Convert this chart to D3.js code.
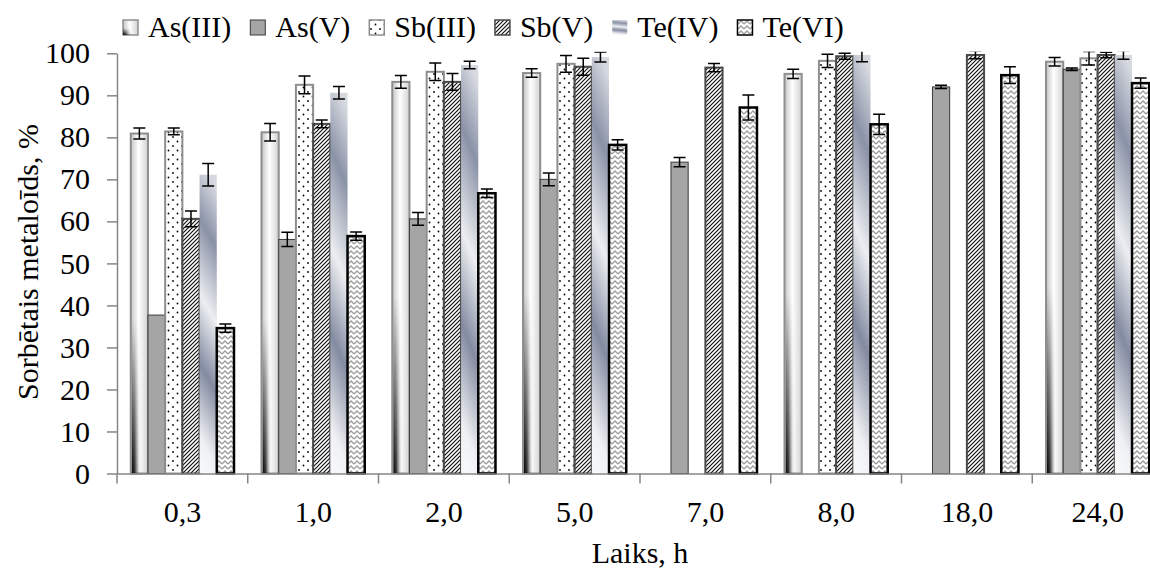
<!DOCTYPE html>
<html>
<head>
<meta charset="utf-8">
<script src="https://cdn.jsdelivr.net/npm/d3@7"></script>
<style>
  html, body { margin: 0; padding: 0; background: #ffffff; }
  svg { display: block; }
  text { font-family: "Liberation Serif", "Times New Roman", serif; fill: #000; }
</style>
</head>
<body>
<svg id="chart" width="1150" height="569"></svg>
<script>
// ---------- data ----------
const categories = ["0,3", "1,0", "2,0", "5,0", "7,0", "8,0", "18,0", "24,0"];
const seriesNames = ["As(III)", "As(V)", "Sb(III)", "Sb(V)", "Te(IV)", "Te(VI)"];
const yTicks = [0, 10, 20, 30, 40, 50, 60, 70, 80, 90, 100];

const asIII    = [80.9, 81.2, 93.2, 95.3, null, 95.1, null, 98.0];
const asIIIErr = [1.3, 2.1, 1.5, 1.0, null, 1.1, null, 1.0];
const asV      = [37.7, 55.7, 60.6, 70.0, 74.1, null, 92.0, 96.2];
const asVErr   = [null, 1.7, 1.5, 1.5, 1.1, null, 0.4, 0.3];
const sbIII    = [81.4, 92.5, 95.6, 97.5, null, 98.2, null, 98.8];
const sbIIIErr = [0.8, 2.1, 2.1, 2.0, null, 1.6, null, 1.6];
const sbV      = [60.6, 83.2, 93.2, 96.8, 96.6, 99.3, 99.6, 99.6];
const sbVErr   = [1.9, 0.9, 2.0, 2.0, 1.0, 0.7, 0.9, 0.65];
const teIV     = [71.1, 90.6, 97.2, 99.1, null, 99.6, null, 99.6];
const teIVErr  = [2.7, 1.5, 0.9, 1.2, null, 1.6, null, 1.0];
const teVI     = [34.6, 56.5, 66.7, 78.2, 87.1, 83.1, 94.8, 92.9];
const teVIErr  = [1.0, 1.0, 1.0, 1.2, 3.0, 2.4, 2.0, 1.2];

const seriesValues = [asIII, asV, sbIII, sbV, teIV, teVI];
const seriesErrors = [asIIIErr, asVErr, sbIIIErr, sbVErr, teIVErr, teVIErr];

// ---------- styles ----------
const seriesStyle = [
  { fill: "url(#gAsIII)", overlay: true, stroke: "#8e8e8e", sw: 2 },
  { fill: "#a5a5a5", stroke: "#3a3a3a", sw: 1 },
  { fill: "url(#pDots)", stroke: "#8e8e8e", sw: 2 },
  { fill: "url(#pHatch)", stroke: "#4a4a4a", sw: 2 },
  { fill: "url(#gTeIV)", stroke: "none", sw: 0 },
  { fill: "url(#pZig)", stroke: "#000000", sw: 2.5 }
];

const svg = d3.select("#chart");
svg.append("rect").attr("width", 1150).attr("height", 569).attr("fill", "#fff");

// ---------- defs ----------
const defs = svg.append("defs");

const gA = defs.append("linearGradient").attr("id", "gAsIII").attr("x1", 0).attr("y1", 0).attr("x2", 1).attr("y2", 0);
[[0, "#c4c4c4"], [0.45, "#ffffff"], [1, "#d2d2d2"]].forEach(s => gA.append("stop").attr("offset", s[0]).attr("stop-color", s[1]));

const gDark = defs.append("linearGradient").attr("id", "gAsIIIDark").attr("x1", 0).attr("y1", 0).attr("x2", 1).attr("y2", 0);
[[0, "#000", 1], [0.2, "#222", 0.9], [0.55, "#888", 0]].forEach(s => gDark.append("stop").attr("offset", s[0]).attr("stop-color", s[1]).attr("stop-opacity", s[2]));

const gV = defs.append("linearGradient").attr("id", "gVmask").attr("x1", 0).attr("y1", 0).attr("x2", 0).attr("y2", 1);
[[0, "#000"], [0.55, "#000"], [1, "#fff"]].forEach(s => gV.append("stop").attr("offset", s[0]).attr("stop-color", s[1]));
defs.append("mask").attr("id", "mAsIII").attr("maskContentUnits", "objectBoundingBox")
  .append("rect").attr("x", 0).attr("y", 0).attr("width", 1).attr("height", 1).attr("fill", "url(#gVmask)");

const gT = defs.append("linearGradient").attr("id", "gTeIV").attr("x1", 0.55).attr("y1", 0).attr("x2", 0.45).attr("y2", 1);
[[0, "#d6d9e0"], [0.2, "#8a92a7"], [0.45, "#eceef1"], [0.68, "#838ba1"], [0.92, "#eff0f3"], [1, "#f6f7f9"]]
  .forEach(s => gT.append("stop").attr("offset", s[0]).attr("stop-color", s[1]));

const pD = defs.append("pattern").attr("id", "pDots").attr("patternUnits", "userSpaceOnUse").attr("width", 9).attr("height", 9);
pD.append("rect").attr("width", 9).attr("height", 9).attr("fill", "#fff");
pD.append("circle").attr("cx", 2).attr("cy", 2).attr("r", 0.9).attr("fill", "#000");
pD.append("circle").attr("cx", 6.5).attr("cy", 6.5).attr("r", 0.9).attr("fill", "#000");

const pH = defs.append("pattern").attr("id", "pHatch").attr("patternUnits", "userSpaceOnUse").attr("width", 4).attr("height", 4);
pH.append("rect").attr("width", 4).attr("height", 4).attr("fill", "#fff");
pH.append("path").attr("d", "M0,4 L4,0 M-1,1 L1,-1 M3,5 L5,3").attr("stroke", "#111").attr("stroke-width", 1.2);

const pZ = defs.append("pattern").attr("id", "pZig").attr("patternUnits", "userSpaceOnUse").attr("width", 6).attr("height", 5);
pZ.append("rect").attr("width", 6).attr("height", 5).attr("fill", "#fff");
pZ.append("path").attr("d", "M0,4 L3,1 L6,4").attr("fill", "none").attr("stroke", "#9c9c9c").attr("stroke-width", 1.3);

// ---------- scales ----------
const x0 = d3.scaleBand().domain(categories).range([117, 1163]).padding(0);
const x1 = d3.scaleBand().domain(seriesNames).range([0, x0.bandwidth()]).paddingInner(0).paddingOuter(0.8);
const y = d3.scaleLinear().domain([0, 100]).range([473.5, 53.3]);

// ---------- y axis ----------
const yAxis = svg.append("g").attr("transform", "translate(117,0)")
  .call(d3.axisLeft(y).tickValues(yTicks).tickSize(10).tickSizeOuter(0).tickPadding(17));
yAxis.select(".domain").attr("stroke", "#868686").attr("stroke-width", 1.5);
yAxis.selectAll(".tick line").attr("stroke", "#868686").attr("stroke-width", 1.5);
yAxis.selectAll(".tick text").attr("font-size", 30).attr("font-family", "Liberation Serif").attr("fill", "#000");

// ---------- bars ----------
const barsG = svg.append("g");
seriesNames.forEach((name, si) => {
  const st = seriesStyle[si];
  const data = categories.map((c, ci) => ({ c, v: seriesValues[si][ci] })).filter(d => d.v != null);
  const g = barsG.append("g");
  g.selectAll("rect.bar").data(data).join("rect").attr("class", "bar")
    .attr("x", d => x0(d.c) + x1(name))
    .attr("y", d => y(d.v))
    .attr("width", x1.bandwidth())
    .attr("height", d => y(0) - y(d.v))
    .attr("fill", st.fill)
    .attr("stroke", st.stroke)
    .attr("stroke-width", st.sw);
  if (st.overlay) {
    g.selectAll("rect.ov").data(data).join("rect").attr("class", "ov")
      .attr("x", d => x0(d.c) + x1(name) + 1)
      .attr("y", d => y(d.v))
      .attr("width", x1.bandwidth() - 2)
      .attr("height", d => y(0) - y(d.v))
      .attr("fill", "url(#gAsIIIDark)")
      .attr("mask", "url(#mAsIII)");
  }
});

// ---------- error bars ----------
defs.append("clipPath").attr("id", "plotClip").append("rect")
  .attr("x", 100).attr("y", y(100.35)).attr("width", 1100).attr("height", y(0) - y(100.35) + 5);
const errG = svg.append("g").attr("clip-path", "url(#plotClip)");
seriesNames.forEach((name, si) => {
  categories.forEach((c, ci) => {
    const v = seriesValues[si][ci], e = seriesErrors[si][ci];
    if (v == null || e == null) return;
    const cx = x0(c) + x1(name) + x1.bandwidth() / 2;
    const capW = 6;
    const yTop = y(v + e), yBot = y(v - e);
    errG.append("line").attr("x1", cx).attr("x2", cx).attr("y1", yTop).attr("y2", yBot)
      .attr("stroke", "#000").attr("stroke-width", 1.5);
    [yTop, yBot].forEach(yy => errG.append("line")
      .attr("x1", cx - capW).attr("x2", cx + capW).attr("y1", yy).attr("y2", yy)
      .attr("stroke", "#000").attr("stroke-width", 1.5));
  });
});

// ---------- x axis ----------
const xAxis = svg.append("g").attr("transform", `translate(0,${y(0)})`)
  .call(d3.axisBottom(x0).tickSize(0).tickSizeOuter(0).tickPadding(27));
xAxis.select(".domain").attr("stroke", "#868686").attr("stroke-width", 1.5);
xAxis.selectAll(".tick text").attr("font-size", 30).attr("font-family", "Liberation Serif").attr("fill", "#000");
xAxis.selectAll("line.bound").data(categories).join("line").attr("class", "bound")
  .attr("x1", d => x0(d)).attr("x2", d => x0(d)).attr("y1", 0).attr("y2", 10)
  .attr("stroke", "#868686").attr("stroke-width", 1.5);

// ---------- titles ----------
svg.append("text").attr("x", 640).attr("y", 563).attr("text-anchor", "middle")
  .attr("font-size", 30).text("Laiks, h");
svg.append("text").attr("transform", "translate(38,262) rotate(-90)").attr("text-anchor", "middle")
  .attr("font-size", 30).text("Sorbētais metaloīds, %");

// ---------- legend ----------
const leg = svg.append("g");
let lx = 123;
seriesNames.forEach((name, si) => {
  const st = seriesStyle[si];
  leg.append("rect").attr("x", lx).attr("y", 20).attr("width", 15).attr("height", 15)
    .attr("fill", st.fill).attr("stroke", st.stroke === "none" ? "none" : st.stroke)
    .attr("stroke-width", Math.min(st.sw, 1.5));
  if (st.overlay) {
    leg.append("rect").attr("x", lx).attr("y", 20).attr("width", 15).attr("height", 15)
      .attr("fill", "url(#gAsIIIDark)").attr("mask", "url(#mAsIII)");
  }
  const t = leg.append("text").attr("x", lx + 25).attr("y", 37).attr("font-size", 30).text(name);
  lx = lx + 25 + t.node().getComputedTextLength() + 19;
});
</script>
</body>
</html>
